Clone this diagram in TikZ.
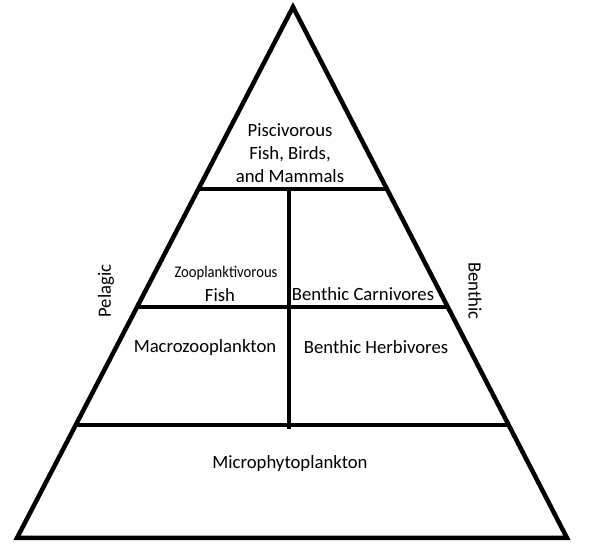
\documentclass[tikz,border=0pt]{standalone}
\usepackage{fontspec}
\setmainfont{Carlito}
\usetikzlibrary{calc}

\begin{document}
\begin{tikzpicture}[x=1pt, y=1pt, line width=4.5pt,
    label/.style={inner sep=0pt, align=center, font=\fontsize{18.7}{23}\selectfont}]
    \useasboundingbox (0,0) rectangle (590,554);
    \coordinate (apex) at (293,547);
    \coordinate (bl) at (17,16);
    \coordinate (br) at (567,16);
    \draw (apex) -- (bl) -- (br) -- cycle;
    % Use partway modifiers to cut the levels on both sides
    \foreach \t/\n in {0.343/top, 0.565/mid, 0.787/low}
        \draw ($(apex)!\t!(bl)$) coordinate (\n-l) -- ($(apex)!\t!(br)$) coordinate (\n-r);
    \coordinate (split-t) at (289,365);
    \draw (split-t) -- ++(0,-240) coordinate (split-b);
    \node[label] (pisc) at (290,401) {Piscivorous\\Fish, Birds,\\and Mammals};
    \node[label, font=\fontsize{16.3}{19}\selectfont] (zoo) at (226,281) {\scalebox{0.9}[1]{Zooplanktivorous}};
    \node[label] (fish) at (220,259) {Fish};
    \node[label] (bcarn) at (363,260) {Benthic Carnivores};
    \node[label] (macro) at (205,206) {Macrozooplankton};
    \node[label] (bherb) at (376,207) {Benthic Herbivores};
    \node[label] (micro) at (290,90) {Microphytoplankton};
    \node[label, rotate=90] (pel) at (106,263) {Pelagic};
    \node[label, rotate=-90] (ben) at (475,263) {Benthic};
\end{tikzpicture}
\end{document}
